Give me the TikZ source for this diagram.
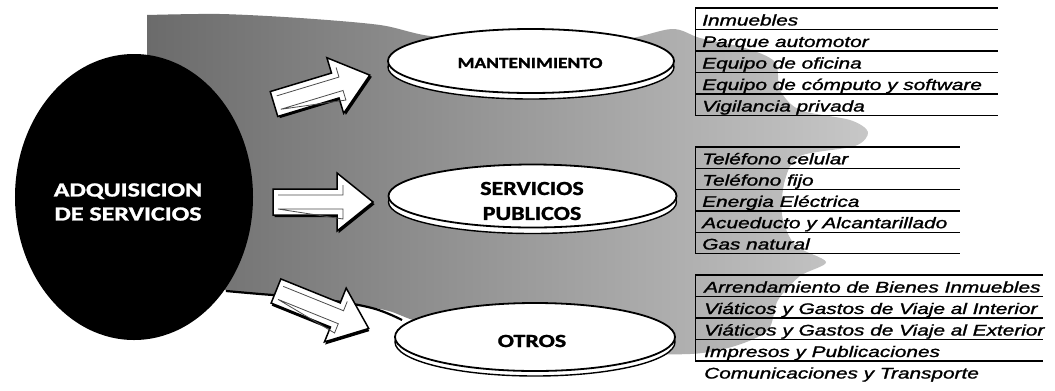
\documentclass[tikz,border=0pt]{standalone}
\usepackage{fontspec}
\setmainfont{Liberation Sans}
\newfontfamily\listfont{Liberation Sans}[ItalicFeatures={FakeBold=1.2}]
\newfontfamily\labfont{Carlito}[BoldFeatures={FakeBold=1.2}]
\usetikzlibrary{shapes.geometric}
\tikzset{
  listtxt/.style={anchor=base west, inner sep=0pt, xscale=1.35,
    font=\listfont\fontsize{15.4bp}{18bp}\selectfont\itshape},
  listline/.style={line width=1.3bp, black},
  oval/.style={ellipse, draw=black, line width=1.8bp, fill=white, inner sep=0pt},
  ovalshadow/.style={draw=black, line width=1.4bp, fill=white},
  lab/.style={inner sep=0pt, align=center, text=black},
  blockarr/.pic={
    \path[fill=black, shift={(1.6,2.2)}] (0,-13)--(64,-13)--(64,-29)--(100,0)--(64,29)--(64,13)--(0,13)--cycle;
    \path[draw=black, fill=white, line width=1.5bp] (0,-13)--(64,-13)--(64,-29)--(100,0)--(64,29)--(64,13)--(0,13)--cycle;
    \path[draw=black!70, line width=0.8bp] (5,-7)--(70,-7)--(70,-17) (70,17)--(70,7)--(5,7)--cycle;
  }
}
\begin{document}
\begin{tikzpicture}[x=1bp, y=-1bp]
\useasboundingbox (0,0) rectangle (1055,390);
\fill[white] (0,0) rectangle (1055,390);

% textured grey band behind the diagram
\shade[left color=black!58, right color=black!22]
  plot[smooth, tension=0.5] coordinates {
   (147,15) (220,14) (300,18) (380,25) (430,36) (520,44) (620,40) (672,29)
   (700,38) (745,48) (775,62) (780,90) (800,110) (850,120) (868,132)
   (855,146) (800,156) (785,180) (782,215) (795,245) (826,262) (800,276)
   (778,300) (768,330) (735,346) (690,354) (600,352) (500,338) (420,322)
   (385,310) (320,299) (260,294) (226,291)}
  -- (170,200) -- (147,60) -- cycle;
\draw[line width=2.2bp, black] plot[smooth, tension=0.6] coordinates {(226,291) (260,294) (320,299) (372,308) (402,320)};

% list groups
\foreach \y in {8,29.5,51,72.5,94,115.5} \draw[listline] (695,\y) -- (998,\y);
\foreach \y in {147,168.3,189.6,210.9,232.2,253.5} \draw[listline] (695,\y) -- (960,\y);
\foreach \y in {275,296.5,318,339.5,361} \draw[listline] (695,\y) -- (1043,\y);
\draw[line width=1bp] (695,8) -- (695,115.5);
\draw[line width=1bp] (695,147) -- (695,253.5);
\draw[line width=1bp] (695,275) -- (695,361);

\node[listtxt] (m1) at (702,25.5) {Inmuebles};
\node[listtxt] (m2) at (702,47) {Parque automotor};
\node[listtxt] (m3) at (702,68.5) {Equipo de oficina};
\node[listtxt] (m4) at (702,90) {Equipo de cómputo y software};
\node[listtxt] (m5) at (702,111.5) {Vigilancia privada};

\node[listtxt] (s1) at (702,164.3) {Teléfono celular};
\node[listtxt] (s2) at (702,185.6) {Teléfono fijo};
\node[listtxt] (s3) at (702,206.9) {Energia Eléctrica};
\node[listtxt] (s4) at (702,228.2) {Acueducto y Alcantarillado};
\node[listtxt] (s5) at (702,249.5) {Gas natural};

\node[listtxt] (o1) at (704,292.5) {Arrendamiento de Bienes Inmuebles};
\node[listtxt] (o2) at (704,314) {Viáticos y Gastos de Viaje al Interior};
\node[listtxt] (o3) at (704,335.5) {Viáticos y Gastos de Viaje al Exterior};
\node[listtxt] (o4) at (704,357) {Impresos y Publicaciones};
\node[listtxt] (o5) at (704,378.5) {Comunicaciones y Transporte};

% category ovals
\coordinate (mantc) at (531,61);
\coordinate (servc) at (532.5,196);
\coordinate (otrc) at (535,337);
\draw[ovalshadow] ([yshift=-6bp]mantc) ellipse [x radius=143, y radius=32];
\node[oval, minimum width=286bp, minimum height=64bp] (mant) at (mantc) {};
\draw[ovalshadow] ([yshift=-6bp]servc) ellipse [x radius=144, y radius=31.5];
\node[oval, minimum width=288bp, minimum height=63bp] (serv) at (servc) {};
\draw[ovalshadow] ([yshift=-5bp]otrc) ellipse [x radius=140, y radius=34];
\node[oval, minimum width=280bp, minimum height=68bp] (otr) at (otrc) {};

\node[lab, font=\labfont\bfseries\fontsize{15.5bp}{18bp}\selectfont] (manttxt) at (530,63) {\scalebox{1.25}[1]{MANTENIMIENTO}};
\node[lab, font=\labfont\bfseries\fontsize{20bp}{25bp}\selectfont] (servtxt) at (532,201) {\scalebox{1.2}[1]{SERVICIOS}\\\scalebox{1.2}[1]{PUBLICOS}};
\node[lab, font=\labfont\bfseries\fontsize{18.6bp}{22bp}\selectfont] (otrtxt) at (532,341) {\scalebox{1.29}[1]{OTROS}};

% main black oval
\node[ellipse, fill=black, inner sep=0pt, minimum width=238bp, minimum height=286bp] (adq) at (134,197) {};
\node[lab, text=white, font=\labfont\bfseries\fontsize{20bp}{24bp}\selectfont] (adqtxt) at (128,202) {\scalebox{1.3}[1]{ADQUISICION}\\\scalebox{1.3}[1]{DE SERVICIOS}};

% block arrows
\coordinate (a1s) at (274,104);
\coordinate (a2s) at (273,202);
\coordinate (a3s) at (276,291);
\pic[rotate=16.8] (arr1) at (a1s) {blockarr};
\pic (arr2) at (a2s) {blockarr};
\pic[rotate=-22] (arr3) at (a3s) {blockarr};
\end{tikzpicture}
\end{document}
